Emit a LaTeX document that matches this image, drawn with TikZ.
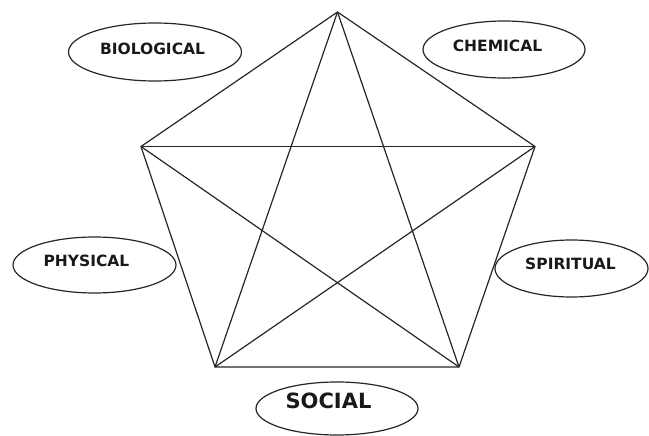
\documentclass[tikz,border=0pt]{standalone}
\usepackage{fontspec}
\setmainfont{DejaVu Sans}
\usetikzlibrary{shapes.geometric,calc}
\tikzset{
  oval/.style={draw=black!85, line width=1.2pt, ellipse, inner sep=0pt},
  lab/.style={font=\bfseries\fontsize{15.5}{16}\selectfont, text=black!90, inner sep=0pt},
  biglab/.style={font=\bfseries\fontsize{21}{22}\selectfont, text=black!90, inner sep=0pt},
  vtx/.style={coordinate},
  edge/.style={draw=black!85, line width=1.2pt}
}
\begin{document}
\begin{tikzpicture}[x=1pt,y=-1pt]
\useasboundingbox (0,0) rectangle (649,436);
% vertices
\coordinate (T) at (337.5,12);
\coordinate (L) at (141,146.5);
\coordinate (R) at (535,146.5);
\coordinate (BL) at (215,367);
\coordinate (BR) at (459,367);
% edges of K5
\draw[edge] (T) -- (L) -- (BL) -- (BR) -- (R) -- cycle;
\draw[edge] (T) -- (BL);
\draw[edge] (T) -- (BR);
\draw[edge] (L) -- (R);
\draw[edge] (L) -- (BR);
\draw[edge] (R) -- (BL);
% ovals
\node[oval, minimum width=173pt, minimum height=58pt] (bio) at (155,52) {};
\node[oval, minimum width=162pt, minimum height=57pt] (chem) at (504,49.5) {};
\node[oval, minimum width=163pt, minimum height=56pt] (phys) at (94.5,265) {};
\node[oval, minimum width=153pt, minimum height=57pt] (spir) at (571.5,268.5) {};
\node[oval, minimum width=162pt, minimum height=53pt] (soc) at (337,408.5) {};
% labels
\node[lab] (biot) at ($(bio)+(-2.5,-3)$) {BIOLOGICAL};
\node[lab] (chemt) at ($(chem)+(-6.5,-3.5)$) {CHEMICAL};
\node[lab] (physt) at ($(phys)+(-8,-4.5)$) {PHYSICAL};
\node[lab] (spirt) at ($(spir)+(-1,-4.5)$) {SPIRITUAL};
\node[biglab] (soct) at ($(soc)+(-8.5,-7.5)$) {SOCIAL};
\end{tikzpicture}
\end{document}
